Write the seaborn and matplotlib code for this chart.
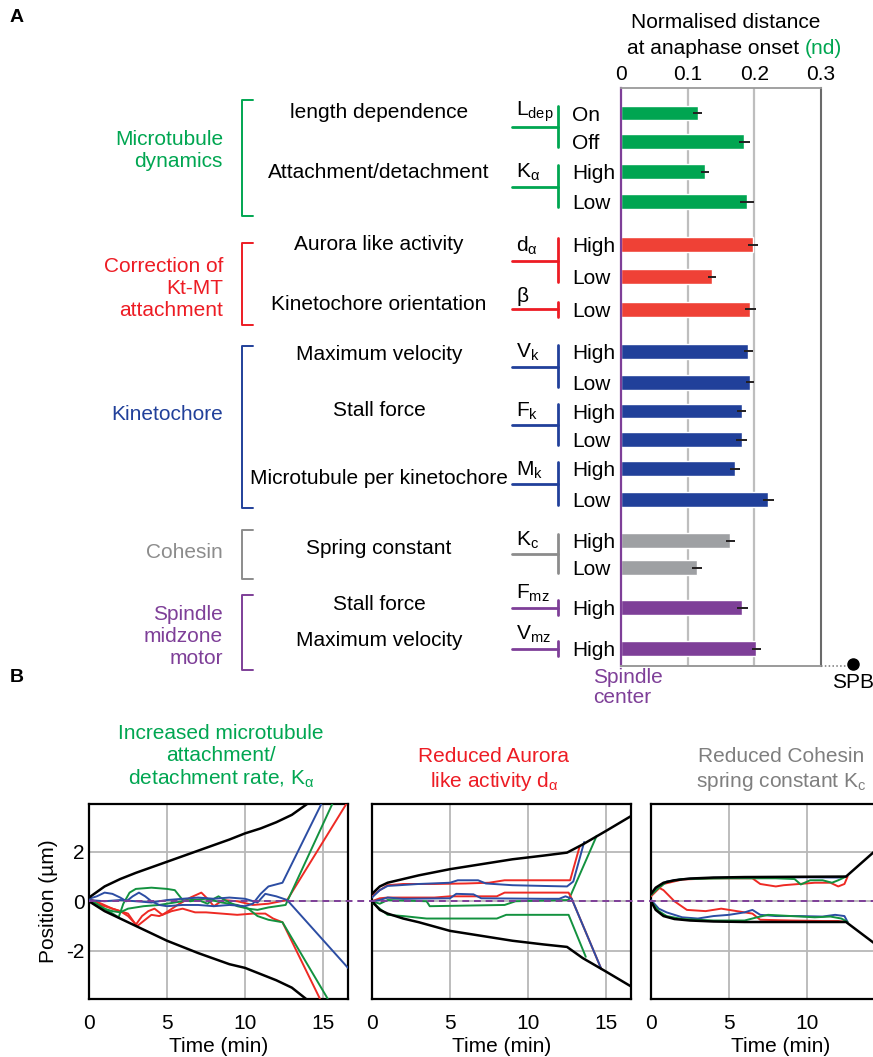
import numpy as np
import pandas as pd
import matplotlib
matplotlib.use("Agg")
import matplotlib.pyplot as plt
import matplotlib.transforms as mtransforms
from matplotlib.lines import Line2D
import seaborn as sns

# ------------------------------------------------------------------ data A
group_names = ["Microtubule\ndynamics", "Correction of\nKt-MT\nattachment",
               "Kinetochore", "Cohesin", "Spindle\nmidzone\nmotor"]
param_names = ["length dependence", "Attachment/detachment", "Aurora like activity",
               "Kinetochore orientation", "Maximum velocity", "Stall force",
               "Microtubule per kinetochore", "Spring constant", "Stall force",
               "Maximum velocity"]
param_symbols = [r"$\mathregular{L_{dep}}$", r"$\mathregular{K_{α}}$", r"$\mathregular{d_{α}}$",
                 "β", r"$\mathregular{V_{k}}$", r"$\mathregular{F_{k}}$", r"$\mathregular{M_{k}}$",
                 r"$\mathregular{K_{c}}$", r"$\mathregular{F_{mz}}$", r"$\mathregular{V_{mz}}$"]
param_group = [0, 0, 1, 1, 2, 2, 2, 3, 4, 4]
bar_param = [0, 0, 1, 1, 2, 2, 3, 4, 4, 5, 5, 6, 6, 7, 7, 8, 9]
bar_levels = ["On", "Off", "High", "Low", "High", "Low", "Low", "High", "Low",
              "High", "Low", "High", "Low", "High", "Low", "High", "High"]
nd_values = [0.115, 0.185, 0.126, 0.189, 0.198, 0.137, 0.194, 0.191, 0.193,
             0.181, 0.181, 0.171, 0.221, 0.164, 0.114, 0.182, 0.203]
nd_errors = [0.007, 0.008, 0.006, 0.010, 0.008, 0.006, 0.008, 0.007, 0.006,
             0.007, 0.008, 0.007, 0.008, 0.007, 0.008, 0.008, 0.007]
nd_ticks = [0, 0.1, 0.2, 0.3]
nd_ticklabels = ["0", "0.1", "0.2", "0.3"]

# ------------------------------------------------------------------ data B
time_ticks = [0, 5, 10, 15]
pos_ticks = [-2, 0, 2]
pos_ticklabels = ["-2", "0", "2"]

ka_black_up = [(0, 0.15), (1, 0.6), (2, 0.9), (3, 1.15), (5, 1.6), (7, 2.05), (9, 2.5), (10, 2.75),
               (11, 2.95), (12, 3.2), (13, 3.5), (14, 3.95)]
ka_black_lo = [(0, 0.0), (1, -0.4), (2, -0.7), (3, -1.0), (5, -1.6), (7, -2.1), (9, -2.55), (10, -2.7),
               (11, -2.95), (12, -3.2), (13, -3.5), (13.9, -3.95)]
ka_red_up = [(0, 0.1), (0.8, -0.1), (1.5, -0.3), (2.5, -0.5), (3.0, -0.95), (3.4, -0.6), (3.8, -0.4),
             (4.2, -0.3), (4.7, -0.55), (5.2, -0.35), (5.8, -0.1), (6.5, 0.15), (7.2, 0.35), (7.6, 0.1),
             (8.0, -0.2), (8.6, 0.05), (9.5, 0.0), (10.5, -0.15), (11.5, -0.1), (12.7, 0.05), (16.5, 3.95)]
ka_red_dn = [(0, 0.0), (1, -0.2), (2, -0.4), (2.5, -0.6), (3.1, -1.0), (3.6, -0.75), (4.0, -0.55),
             (4.5, -0.6), (5.3, -0.4), (6, -0.3), (6.8, -0.45), (7.5, -0.45), (8.5, -0.5), (9.5, -0.55),
             (10.5, -0.5), (11.3, -0.5), (11.8, -0.7), (12.4, -0.85), (14.8, -3.95)]
ka_green_up = [(0, 0.05), (0.5, -0.1), (1.0, -0.3), (1.9, -0.65), (2.2, -0.1), (2.6, 0.35), (3.0, 0.5),
               (4.0, 0.55), (5.0, 0.5), (5.5, 0.45), (6.0, 0.05), (6.5, 0.0), (7.0, 0.05), (7.6, -0.1),
               (8.0, 0.1), (8.3, 0.2), (8.7, 0.05), (9.5, -0.2), (10.2, -0.3), (10.8, -0.35),
               (11.5, -0.25), (12.6, -0.15), (15.6, 3.95)]
ka_green_dn = [(0, 0.0), (0.7, -0.25), (1.5, -0.4), (2.0, -0.45), (2.5, -0.3), (3.5, -0.2), (4.5, -0.15),
               (5.5, -0.05), (6.5, 0.05), (7.5, 0.1), (8.5, -0.05), (9.5, -0.15), (10.2, -0.3),
               (10.8, -0.6), (11.5, -0.75), (12.4, -0.85), (15.3, -3.95)]
ka_blue_up = [(0, 0.1), (0.5, 0.2), (1.0, 0.35), (1.5, 0.3), (2.0, 0.15), (2.4, 0.0), (2.8, 0.2),
              (3.2, 0.35), (3.6, 0.2), (4.0, 0.0), (4.5, -0.15), (5.0, -0.2), (6.0, -0.15), (7.0, -0.15),
              (8.0, -0.2), (9.0, -0.15), (10.0, -0.2), (10.5, -0.1), (11.0, 0.3), (11.5, 0.6),
              (12.4, 0.75), (14.9, 3.95)]
ka_blue_dn = [(0, 0.05), (1, 0.0), (2, 0.05), (3, 0.0), (4, -0.05), (5, 0.05), (6, 0.1), (7, 0.15),
              (8, 0.1), (9, 0.15), (10, 0.1), (10.8, -0.05), (11.3, 0.3), (12, 0.2), (12.7, 0.05),
              (16.6, -2.7)]

da_black_up = [(0, 0.3), (0.5, 0.6), (1, 0.75), (2, 0.9), (3, 1.05), (5, 1.3), (7, 1.5), (9, 1.7),
               (11, 1.85), (12.5, 1.97), (13.5, 2.3), (15, 2.85), (16.6, 3.45)]
da_black_lo = [(0, 0.0), (0.5, -0.35), (1, -0.5), (2, -0.7), (3, -0.85), (5, -1.2), (7, -1.4), (9, -1.6),
               (11, -1.75), (12.5, -1.85), (13.5, -2.3), (15, -2.85), (16.6, -3.45)]
da_red_up = [(0, 0.2), (0.5, 0.45), (1, 0.65), (2, 0.7), (4, 0.7), (6, 0.72), (7.5, 0.75), (8.5, 0.85),
             (10, 0.85), (12.7, 0.85), (13.3, 2.2)]
da_blue_up = [(0, 0.15), (0.5, 0.45), (1, 0.62), (3, 0.7), (5, 0.75), (5.5, 0.85), (6.8, 0.85),
              (7.3, 0.72), (9, 0.65), (11, 0.62), (12.5, 0.6), (12.9, 0.8), (13.6, 2.4)]
da_red_dn = [(0, 0.0), (0.5, 0.12), (1, 0.15), (4, 0.15), (5, 0.2), (8, 0.2), (8.5, 0.35), (12.6, 0.35),
             (12.8, 0.1), (14.7, -2.75)]
da_blue_dn = [(0, 0.0), (0.5, 0.05), (1, 0.15), (2, 0.1), (5, 0.12), (5.4, 0.3), (6.5, 0.28), (7, 0.12),
              (11, 0.1), (12, 0.1), (12.4, 0.2), (12.8, 0.1), (14.7, -2.75)]
da_green_up = [(0, 0.0), (0.5, -0.1), (1, 0.05), (3.5, 0.0), (3.7, -0.2), (8.5, -0.15), (9.2, 0.0),
               (12.6, 0.05), (14.4, 2.65)]
da_green_dn = [(0, -0.05), (1, -0.55), (2, -0.6), (3.5, -0.7), (8, -0.7), (8.6, -0.55), (12.6, -0.55),
               (13.7, -2.25)]

kc_black_up = [(0, 0.3), (0.3, 0.55), (0.8, 0.75), (1.5, 0.85), (2.5, 0.92), (4, 0.96), (6, 0.98),
               (9, 0.99), (12.5, 1.0), (14.2, 1.95), (16.6, 3.3)]
kc_black_lo = [(0, 0.0), (0.3, -0.35), (0.8, -0.6), (1.5, -0.72), (2.5, -0.78), (4, -0.82), (6, -0.84),
               (9, -0.84), (12.5, -0.84), (14.2, -1.65), (16.6, -2.8)]
kc_red_a = [(0, 0.25), (0.5, 0.55), (0.8, 0.45), (1.5, 0.0), (2.3, -0.35), (3.5, -0.4), (4.5, -0.3),
            (5.5, -0.4), (6.5, -0.5), (7.0, -0.75), (9, -0.78), (11, -0.8), (12, -0.8), (12.5, -0.84)]
kc_red_b = [(0, 0.2), (0.8, 0.7), (2, 0.88), (4, 0.93), (6.5, 0.93), (7.0, 0.7), (8.0, 0.6), (8.5, 0.65),
            (9.5, 0.7), (10.5, 0.75), (11.5, 0.75), (12.0, 0.6), (12.4, 0.7), (12.6, 1.0)]
kc_blue_a = [(0, 0.3), (0.5, 0.6), (1, 0.8), (2, 0.9), (4, 0.95), (8, 0.96), (10, 0.97), (12, 0.96),
             (12.5, 1.0)]
kc_blue_b = [(0, 0.05), (0.5, -0.3), (1, -0.45), (2, -0.65), (3, -0.7), (4, -0.6), (5, -0.55),
             (6, -0.45), (6.5, -0.35), (7, -0.55), (8, -0.6), (9.5, -0.6), (11, -0.62), (11.8, -0.55),
             (12.4, -0.6), (12.6, -0.84)]
kc_green_a = [(0, 0.25), (0.5, 0.55), (1, 0.78), (2, 0.9), (5, 0.93), (8, 0.93), (9.2, 0.9), (9.6, 0.68),
              (10.2, 0.85), (11, 0.85), (11.6, 0.75), (12, 0.85), (12.5, 1.0)]
kc_green_b = [(0, 0.0), (0.5, -0.4), (1, -0.6), (2, -0.72), (4, -0.78), (6, -0.78), (6.8, -0.65),
              (7.5, -0.55), (9, -0.6), (10.5, -0.65), (11.5, -0.62), (12.2, -0.7), (12.6, -0.84)]

# ------------------------------------------------------------------ style
GROUP_BAR = ["#00A551", "#EF4136", "#21409A", "#9EA0A3", "#7E3F98"]
GROUP_TXT = ["#00A651", "#ED1C24", "#21409A", "#8C8C8C", "#7E3F98"]
TRACE = {"red": "#EE2A24", "green": "#13923F", "blue": "#2C4DA3", "black": "#000000"}
PURPLE = "#7E3F98"
FS = 15

sns.set_theme(style="white")
plt.rcParams["font.family"] = ["Liberation Sans", "DejaVu Sans"]
plt.rcParams["axes.unicode_minus"] = False
plt.rcParams["mathtext.fontset"] = "custom"
plt.rcParams["mathtext.rm"] = "Liberation Sans"
plt.rcParams["mathtext.it"] = "Liberation Sans"
plt.rcParams["text.color"] = "black"
plt.rcParams["axes.labelcolor"] = "black"
plt.rcParams["xtick.color"] = "black"
plt.rcParams["ytick.color"] = "black"

W, H = 873, 1057
fig = plt.figure(figsize=(W / 100, H / 100), dpi=100)
fig.patch.set_facecolor("white")


def X(px):
    return px / W


def Y(py):
    return 1 - py / H


def axrect(l, t, r, b):
    return [X(l), Y(b), (r - l) / W, (b - t) / H]


# ------------------------------------------------------------------ panel A bars
row_gaps = [0, 0.97, 1.0, 1.0, 1.45, 1.07, 1.1, 1.4, 1.04, 0.97, 0.97, 0.97, 1.04, 1.38, 0.9, 1.34, 1.38]
pos = np.cumsum(row_gaps)
axA = fig.add_axes(axrect(621, 88, 821, 666))
dfA = pd.DataFrame({"nd": nd_values, "pos": pos,
                    "grp": [str(param_group[p]) for p in bar_param]})
min_gap = np.min(np.diff(pos))
sns.barplot(data=dfA, x="nd", y="pos", hue="grp", orient="h", native_scale=True, dodge=False,
            palette={str(i): c for i, c in enumerate(GROUP_BAR)}, width=0.5 / min_gap,
            errorbar=None, legend=False, saturation=1, ax=axA, zorder=2)
axA.errorbar(nd_values, pos, xerr=nd_errors, fmt="none", ecolor="#231F20", elinewidth=1.4,
             capsize=0, zorder=3)
for g in (0.1, 0.2):
    axA.axvline(g, color="#BEBEBE", lw=1.6, zorder=0.5)
axA.set_xlim(0, 0.3)
axA.set_ylim(18.557, -0.839)
axA.xaxis.tick_top()
axA.set_xticks(nd_ticks)
axA.set_xticklabels(nd_ticklabels, fontsize=FS)
axA.tick_params(axis="x", length=0, pad=3)
axA.set_yticks(pos)
axA.set_yticklabels(bar_levels, fontsize=FS)
axA.tick_params(axis="y", length=0, pad=35)
for lab in axA.get_yticklabels():
    lab.set_ha("left")
axA.set_xlabel("")
axA.set_ylabel("")
axA.spines["left"].set_color(PURPLE)
axA.spines["left"].set_linewidth(1.6)
axA.spines["top"].set_color("#9A9A9A")
axA.spines["top"].set_linewidth(1.3)
axA.spines["bottom"].set_color("#9A9A9A")
axA.spines["bottom"].set_linewidth(1.4)
axA.spines["right"].set_color("#6A6A6A")
axA.spines["right"].set_linewidth(1.5)

fig.text(X(726), Y(22), "Normalised distance", ha="center", va="center", fontsize=FS)
fig.text(X(799), Y(48), "at anaphase onset", ha="right", va="center", fontsize=FS)
fig.text(X(805), Y(48), "(nd)", ha="left", va="center", fontsize=FS, color=GROUP_TXT[0])

fig.text(X(593), Y(683), "Spindle", ha="left", va="baseline", fontsize=FS, color=PURPLE)
fig.text(X(593), Y(703), "center", ha="left", va="baseline", fontsize=FS, color=PURPLE)
fig.text(X(832), Y(688), "SPB", ha="left", va="baseline", fontsize=FS)
fig.add_artist(Line2D([X(821), X(852)], [Y(666), Y(666)], color="#777777", lw=1.1, ls=(0, (1, 1.5))))
fig.add_artist(Line2D([X(853)], [Y(664)], marker="o", markersize=8, color="black", lw=0))

# T-shaped parameter markers tied to bar rows
trA = mtransforms.blended_transform_factory(fig.transFigure, axA.transData)
for k in range(len(param_names)):
    rows = [i for i, p in enumerate(bar_param) if p == k]
    ys = pos[rows]
    c = GROUP_TXT[param_group[k]]
    yc = ys.mean()
    if len(rows) > 1:
        y0, y1 = ys.min() - 0.22, ys.max() + 0.18
    else:
        y0, y1 = yc - 0.25, yc + 0.25
    fig.add_artist(Line2D([X(512), X(558)], [yc, yc], transform=trA, color=c, lw=2))
    fig.add_artist(Line2D([X(558), X(558)], [y0, y1], transform=trA, color=c, lw=2))
    fig.text(X(516), yc - 0.12, param_symbols[k], transform=trA, ha="left", va="bottom", fontsize=FS)

name_y = [113, 172, 245, 305, 355, 411, 478, 548, 604, 641]
for name, yy in zip(param_names, name_y):
    fig.text(X(379), Y(yy), name, ha="center", va="center", fontsize=FS)

group_y = [151, 288, 415, 552, 637]
group_span = [(100, 216), (243, 325), (346, 508), (530, 579), (595, 670)]
for gi, (gname, gy, (t0, t1)) in enumerate(zip(group_names, group_y, group_span)):
    c = GROUP_TXT[gi]
    fig.text(X(223), Y(gy), gname, ha="right", va="center", fontsize=FS, color=c,
             multialignment="right", linespacing=1.2)
    fig.add_artist(Line2D([X(253), X(242), X(242), X(253)], [Y(t0), Y(t0), Y(t1), Y(t1)],
                          color=c, lw=1.4))

fig.text(X(10), Y(18), "A", ha="left", va="center", fontsize=14, fontweight="bold")
fig.text(X(10), Y(678), "B", ha="left", va="center", fontsize=14, fontweight="bold")

# ------------------------------------------------------------------ panel B traces


def traces_df(named):
    rows = []
    for name, color, pts in named:
        for t, y in pts:
            rows.append({"trace": name, "color": color, "t": t, "y": y})
    return pd.DataFrame(rows)


panels = [
    (axrect(89, 804, 348, 999),
     [("bu", "black", ka_black_up), ("bl", "black", ka_black_lo)],
     [("ru", "red", ka_red_up), ("rd", "red", ka_red_dn), ("gu", "green", ka_green_up),
      ("gd", "green", ka_green_dn), ("bu", "blue", ka_blue_up), ("bd", "blue", ka_blue_dn)]),
    (axrect(372, 804, 631, 999),
     [("bu", "black", da_black_up), ("bl", "black", da_black_lo)],
     [("gu", "green", da_green_up), ("gd", "green", da_green_dn), ("ru", "red", da_red_up),
      ("rd", "red", da_red_dn), ("bu", "blue", da_blue_up), ("bd", "blue", da_blue_dn)]),
    (axrect(651, 804, 910, 999),
     [("bu", "black", kc_black_up), ("bl", "black", kc_black_lo)],
     [("ra", "red", kc_red_a), ("rb", "red", kc_red_b), ("ba", "blue", kc_blue_a),
      ("bb", "blue", kc_blue_b), ("ga", "green", kc_green_a), ("gb", "green", kc_green_b)]),
]

axesB = []
for i, (rect, blacks, colored) in enumerate(panels):
    ax = fig.add_axes(rect)
    axesB.append(ax)
    dfc = traces_df(colored)
    sns.lineplot(data=dfc, x="t", y="y", units="trace", hue="color", palette=TRACE, estimator=None,
                 sort=False, legend=False, lw=1.4, ax=ax, zorder=3)
    dfk = traces_df(blacks)
    sns.lineplot(data=dfk, x="t", y="y", units="trace", hue="color", palette=TRACE, estimator=None,
                 sort=False, legend=False, lw=1.8, ax=ax, zorder=4)
    ax.set_xlim(0, 16.6)
    ax.set_ylim(-3.96, 3.94)
    ax.set_xticks(time_ticks)
    ax.set_xticklabels([str(t) for t in time_ticks], fontsize=FS)
    ax.set_yticks(pos_ticks)
    if i == 0:
        ax.set_yticklabels(pos_ticklabels, fontsize=FS)
        ax.set_ylabel("Position (µm)", fontsize=FS, labelpad=6)
    else:
        ax.set_yticklabels([])
        ax.set_ylabel("")
    ax.tick_params(axis="both", length=0)
    ax.tick_params(axis="x", pad=11)
    ax.tick_params(axis="y", pad=3)
    ax.set_xlabel("Time (min)", fontsize=FS, labelpad=3)
    ax.grid(True, color="#B8B8B8", lw=1.3)
    ax.set_axisbelow(True)
    for sp in ax.spines.values():
        sp.set_color("black")
        sp.set_linewidth(1.6)

trB = mtransforms.blended_transform_factory(fig.transFigure, axesB[0].transData)
fig.add_artist(Line2D([X(89), X(873)], [0, 0], transform=trB, color=PURPLE, lw=1.4,
                      ls=(0, (3.5, 2.5))))

fig.text(X(221), Y(757), "Increased microtubule\nattachment/\ndetachment rate, K$_\\mathregular{α}$",
         ha="center", va="center", fontsize=FS, color=GROUP_TXT[0], linespacing=1.2)
fig.text(X(494), Y(770), "Reduced Aurora\nlike activity d$_\\mathregular{α}$",
         ha="center", va="center", fontsize=FS, color=GROUP_TXT[1], linespacing=1.2)
fig.text(X(781), Y(770), "Reduced Cohesin\nspring constant K$_\\mathregular{c}$",
         ha="center", va="center", fontsize=FS, color="#7F7F7F", linespacing=1.2)

fig.savefig("out.png", dpi=100, facecolor="white")
